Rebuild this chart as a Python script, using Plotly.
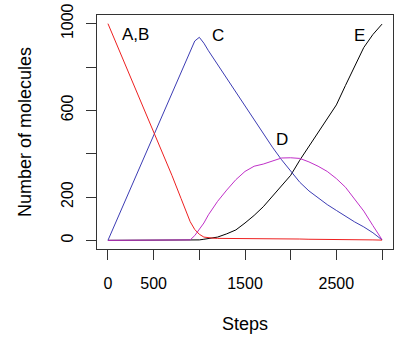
import plotly.graph_objects as go

steps = [0, 100, 200, 300, 400, 500, 600, 700, 800, 850, 900, 950, 1000, 1050, 1100, 1150,
         1200, 1300, 1400, 1500, 1600, 1700, 1800, 1900, 2000, 2100, 2200, 2300, 2400,
         2500, 2600, 2700, 2800, 2900, 3000]

a_b = [1000, 900, 800, 700, 600, 502, 400, 300, 193, 140, 86, 50, 28, 15, 11, 10,
       9, 9, 8, 8, 8, 7, 7, 7, 6, 6, 5, 5, 4, 4, 3, 3, 2, 2, 1]
c_vals = [0, 97, 196, 293, 392, 490, 588, 685, 780, 828, 875, 920, 937, 910, 875, 843,
          810, 745, 682, 618, 553, 490, 430, 372, 318, 268, 228, 195, 165, 138, 110, 85, 62, 35, 2]
d_vals = [0, 0, 0, 0, 0, 0, 0, 0, 0, 0, 2, 22, 52, 80, 118, 150,
          180, 232, 280, 318, 342, 352, 365, 380, 381, 378, 362, 342, 318, 285, 245, 192, 135, 68, 3]
e_vals = [0, 0, 0, 0, 0, 0, 0, 0, 0, 0, 0, 0, 2, 5, 8, 11,
          15, 30, 48, 80, 115, 155, 202, 248, 300, 370, 435, 495, 565, 625, 715, 805, 890, 950, 998]

x_ticks = [0, 500, 1000, 1500, 2000, 2500, 3000]
x_labels = ["0", "500", "", "1500", "", "2500", ""]
y_ticks = [0, 200, 400, 600, 800, 1000]
y_labels = ["0", "200", "", "600", "", "1000"]

curve_labels = ["A,B", "C", "D", "E"]
label_x = [298, 1205, 1910, 2757]
label_y = [951, 947, 466, 947]

FONT = "Liberation Sans, Arial, sans-serif"

fig = go.Figure()
fig.add_trace(go.Scatter(x=steps, y=e_vals, mode="lines", line=dict(color="black", width=1)))
fig.add_trace(go.Scatter(x=steps, y=c_vals, mode="lines", line=dict(color="#3c3cb4", width=1)))
fig.add_trace(go.Scatter(x=steps, y=d_vals, mode="lines", line=dict(color="#c030c8", width=1)))
fig.add_trace(go.Scatter(x=steps, y=a_b, mode="lines", line=dict(color="#ee2020", width=1)))

for t, x, y in zip(curve_labels, label_x, label_y):
    fig.add_annotation(x=x, y=y, text=t, showarrow=False, xanchor="center", yanchor="middle",
                       font=dict(size=17, color="black", family=FONT))

fig.add_annotation(xref="paper", yref="paper", x=0.5, y=0, yshift=-75, text="Steps",
                   showarrow=False, xanchor="center", yanchor="middle",
                   font=dict(size=18, color="black", family=FONT))
fig.add_annotation(xref="paper", yref="paper", x=0, y=0.5, xshift=-72, text="Number of molecules",
                   showarrow=False, xanchor="center", yanchor="middle", textangle=-90,
                   font=dict(size=18, color="black", family=FONT))

axis_common = dict(showline=True, mirror=True, linecolor="#333", linewidth=1,
                   ticks="outside", ticklen=10, tickcolor="#333", tickwidth=1,
                   showgrid=False, zeroline=False, automargin=False,
                   tickfont=dict(size=16, color="black", family=FONT))

fig.update_xaxes(range=[-120, 3120], tickvals=x_ticks, ticktext=x_labels,
                 ticklabelstandoff=10, **axis_common)
fig.update_yaxes(range=[-40, 1040], tickvals=y_ticks, ticktext=y_labels, tickangle=-90,
                 ticklabelstandoff=7, **axis_common)

fig.update_layout(width=396, height=338, showlegend=False,
                  margin=dict(l=97, r=3, t=15, b=89, autoexpand=False),
                  plot_bgcolor="white", paper_bgcolor="white")

fig.write_html("out.html", config={"displayModeBar": False},
               post_script="document.body.style.margin='0';document.body.style.overflow='hidden';")
